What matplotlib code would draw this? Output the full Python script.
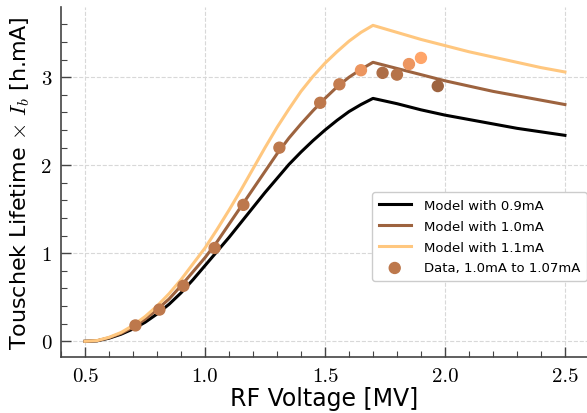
import numpy as np
import matplotlib
matplotlib.use("Agg")
import matplotlib.pyplot as plt
from matplotlib.colors import Normalize

# model curves (RF voltage in MV, lifetime x current in h.mA)
volts = [0.50, 0.55, 0.60, 0.65, 0.70, 0.75, 0.80, 0.85, 0.90, 0.95,
         1.00, 1.05, 1.10, 1.15, 1.20, 1.25, 1.30, 1.35, 1.40, 1.45,
         1.50, 1.55, 1.60, 1.65, 1.70, 1.80, 1.90, 2.00, 2.10, 2.20,
         2.30, 2.40, 2.50]
model_09 = [0.000, 0.005, 0.035, 0.08, 0.14, 0.215, 0.31, 0.42, 0.55, 0.70,
            0.86, 1.02, 1.18, 1.35, 1.52, 1.69, 1.85, 2.01, 2.15, 2.28,
            2.40, 2.51, 2.61, 2.69, 2.76, 2.70, 2.63, 2.57, 2.52, 2.47,
            2.42, 2.38, 2.34]
model_10 = [0.000, 0.006, 0.04, 0.09, 0.16, 0.25, 0.36, 0.48, 0.63, 0.79,
            0.95, 1.13, 1.33, 1.53, 1.73, 1.93, 2.13, 2.31, 2.47, 2.62,
            2.76, 2.89, 3.00, 3.09, 3.17, 3.10, 3.03, 2.96, 2.90, 2.84,
            2.79, 2.74, 2.69]
model_11 = [0.000, 0.008, 0.045, 0.10, 0.18, 0.28, 0.40, 0.54, 0.70, 0.88,
            1.06, 1.27, 1.49, 1.72, 1.96, 2.20, 2.43, 2.64, 2.84, 3.01,
            3.16, 3.29, 3.41, 3.51, 3.59, 3.51, 3.43, 3.36, 3.29, 3.23,
            3.17, 3.11, 3.06]

# measured points
data_v = [0.71, 0.81, 0.91, 1.04, 1.16, 1.31, 1.48, 1.56, 1.65, 1.74, 1.80, 1.85, 1.90, 1.97]
data_t = [0.18, 0.36, 0.63, 1.06, 1.55, 2.20, 2.71, 2.92, 3.08, 3.05, 3.03, 3.15, 3.22, 2.90]
data_i = [1.02, 1.02, 1.02, 1.02, 1.02, 1.02, 1.02, 1.025, 1.05, 1.01, 1.015, 1.05, 1.065, 1.0]

plt.rcParams['mathtext.fontset'] = 'cm'
plt.rcParams['font.family'] = ['DejaVu Sans']

cmap = plt.get_cmap('copper')
norm = Normalize(0.9, 1.1)

fig = plt.figure(figsize=(5.87, 4.14), dpi=100)
ax = fig.add_axes([0.104, 0.135, 0.896, 0.846])

ax.plot(volts, model_09, color=cmap(norm(0.9)), lw=2.2, label="Model with 0.9mA")
ax.plot(volts, model_10, color=cmap(norm(1.0)), lw=2.2, label="Model with 1.0mA")
ax.plot(volts, model_11, color=cmap(norm(1.1)), lw=2.2, label="Model with 1.1mA")
ax.scatter(data_v, data_t, c=data_i, cmap=cmap, norm=norm, s=62, zorder=3,
           label="Data, 1.0mA to 1.07mA")

ax.set_xlim(0.4, 2.592)
ax.set_ylim(-0.18, 3.80)
ax.set_xticks([0.5, 1.0, 1.5, 2.0, 2.5])
ax.set_yticks([0, 1, 2, 3])
ax.set_xticks(np.arange(0.4, 2.6, 0.1), minor=True)
ax.set_yticks(np.arange(0.0, 3.8, 0.2), minor=True)
ax.set_xticklabels(["0.5", "1.0", "1.5", "2.0", "2.5"], fontfamily='cmr10')
ax.set_yticklabels(["0", "1", "2", "3"], fontfamily='cmr10')

for s in ['top', 'right']:
    ax.spines[s].set_visible(False)
for s in ['left', 'bottom']:
    ax.spines[s].set_color('#444444')
    ax.spines[s].set_linewidth(1.2)

ax.tick_params(which='major', direction='in', length=7, width=1.0, color='#444444',
               labelsize=15, pad=7)
ax.tick_params(which='minor', direction='in', length=4, width=0.8, color='#444444')
ax.grid(True, which='major', ls='--', color='#d8d8d8', lw=0.8)

ax.set_xlabel("RF Voltage [MV]", fontsize=17, labelpad=1)
ax.set_ylabel(r"Touschek Lifetime $\times$ $I_b$ [h.mA]", fontsize=16, labelpad=6)

ax.legend(loc='upper right', bbox_to_anchor=(1.012, 0.49), fontsize=9.5,
          labelspacing=0.6, frameon=True, framealpha=1, edgecolor='#cccccc',
          handlelength=2.4, handletextpad=1.0, borderpad=0.5)

fig.savefig("out.png", dpi=100)
